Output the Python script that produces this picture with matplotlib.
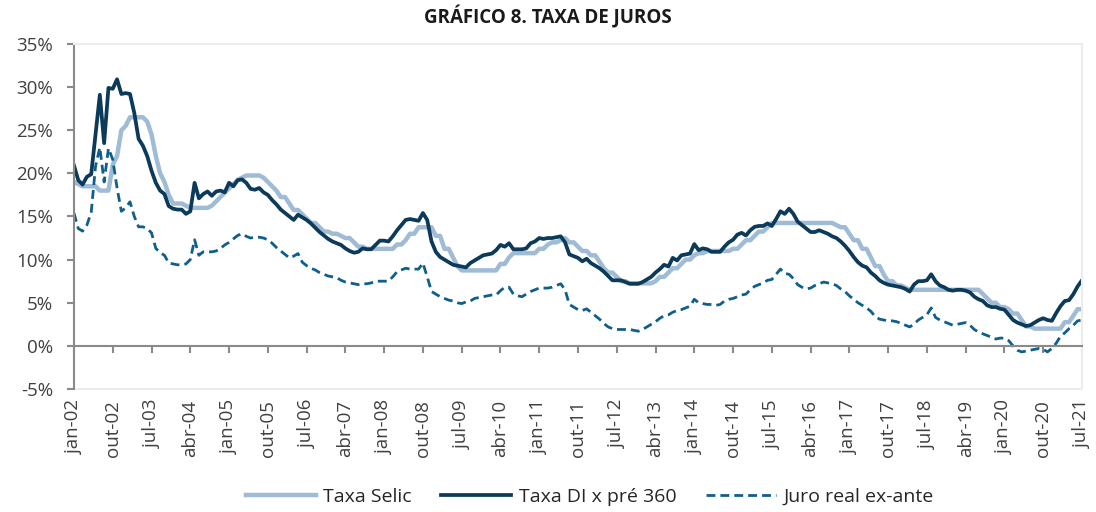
import numpy as np
import matplotlib
matplotlib.use("Agg")
import matplotlib.pyplot as plt

# monthly values, jan-02 .. jul-21 (% a.a.)
selic = [
    19.0, 18.75, 18.5, 18.5, 18.5, 18.5, 18.0, 18.0, 18.0, 21.0, 22.0, 25.0,
    25.5, 26.5, 26.5, 26.5, 26.5, 26.0, 24.5, 22.0, 20.0, 19.0, 17.5, 16.5,
    16.5, 16.5, 16.25, 16.0, 16.0, 16.0, 16.0, 16.0, 16.25, 16.75, 17.25, 17.75,
    18.25, 18.75, 19.25, 19.5, 19.75, 19.75, 19.75, 19.75, 19.5, 19.0, 18.5, 18.0,
    17.25, 17.25, 16.5, 15.75, 15.75, 15.25, 14.75, 14.25, 14.25, 13.75, 13.25, 13.25,
    13.0, 13.0, 12.75, 12.5, 12.5, 12.0, 11.5, 11.5, 11.25, 11.25, 11.25, 11.25,
    11.25, 11.25, 11.25, 11.75, 11.75, 12.25, 13.0, 13.0, 13.75, 13.75, 13.75, 13.75,
    12.75, 12.75, 11.25, 11.25, 10.25, 9.25, 8.75, 8.75, 8.75, 8.75, 8.75, 8.75,
    8.75, 8.75, 8.75, 9.5, 9.5, 10.25, 10.75, 10.75, 10.75, 10.75, 10.75, 10.75,
    11.25, 11.25, 11.75, 12.0, 12.0, 12.25, 12.5, 12.0, 12.0, 11.5, 11.0, 11.0,
    10.5, 10.5, 9.75, 9.0, 8.5, 8.5, 8.0, 7.5, 7.5, 7.25, 7.25, 7.25,
    7.25, 7.25, 7.25, 7.5, 8.0, 8.0, 8.5, 9.0, 9.0, 9.5, 10.0, 10.0,
    10.5, 10.75, 10.75, 11.0, 11.0, 11.0, 11.0, 11.0, 11.0, 11.25, 11.25, 11.75,
    12.25, 12.25, 12.75, 13.25, 13.25, 13.75, 14.25, 14.25, 14.25, 14.25, 14.25, 14.25,
    14.25, 14.25, 14.25, 14.25, 14.25, 14.25, 14.25, 14.25, 14.25, 14.0, 13.75, 13.75,
    13.0, 12.25, 12.25, 11.25, 11.25, 10.25, 9.25, 9.25, 8.25, 7.5, 7.5, 7.0,
    7.0, 6.75, 6.5, 6.5, 6.5, 6.5, 6.5, 6.5, 6.5, 6.5, 6.5, 6.5,
    6.5, 6.5, 6.5, 6.5, 6.5, 6.5, 6.5, 6.0, 5.5, 5.0, 5.0, 4.5,
    4.5, 4.25, 3.75, 3.75, 3.0, 2.25, 2.25, 2.0, 2.0, 2.0, 2.0, 2.0,
    2.0, 2.0, 2.75, 2.75, 3.5, 4.25, 4.25,
]

di_pre360 = [
    20.9, 19.2, 18.7, 19.6, 19.9, 24.5, 29.1, 23.5, 29.9, 29.8, 30.9, 29.2,
    29.3, 29.2, 27.0, 24.0, 23.2, 22.0, 20.3, 18.9, 18.0, 17.6, 16.2, 15.9,
    15.8, 15.8, 15.3, 15.6, 18.9, 17.1, 17.6, 17.9, 17.4, 17.9, 18.0, 17.8,
    18.9, 18.5, 19.2, 19.3, 18.9, 18.2, 18.1, 18.3, 17.8, 17.5, 16.9, 16.4,
    15.8, 15.4, 15.0, 14.6, 15.2, 14.9, 14.6, 14.2, 13.7, 13.2, 12.8, 12.4,
    12.1, 11.9, 11.7, 11.3, 11.0, 10.8, 10.9, 11.3, 11.2, 11.2, 11.7, 12.2,
    12.2, 12.1, 12.7, 13.4, 14.0, 14.6, 14.7, 14.6, 14.5, 15.4, 14.6, 12.1,
    10.9, 10.3, 10.0, 9.7, 9.4, 9.3, 9.2, 9.1, 9.6, 9.9, 10.2, 10.5,
    10.6, 10.7, 11.1, 11.7, 11.5, 11.9, 11.2, 11.2, 11.2, 11.3, 11.9, 12.1,
    12.5, 12.4, 12.5, 12.5, 12.6, 12.7, 12.0, 10.6, 10.4, 10.2, 9.8, 10.1,
    9.6, 9.3, 9.0, 8.6, 8.1, 7.6, 7.6, 7.6, 7.4, 7.2, 7.2, 7.2,
    7.4, 7.7, 8.0, 8.5, 8.9, 9.4, 9.2, 10.2, 9.9, 10.5, 10.6, 10.7,
    11.8, 11.1, 11.3, 11.2, 10.9, 10.9, 10.9, 11.5, 12.0, 12.3, 12.9, 13.1,
    12.8, 13.4, 13.8, 13.9, 13.9, 14.2, 13.9, 14.7, 15.6, 15.3, 15.9, 15.3,
    14.4, 14.0, 13.6, 13.2, 13.2, 13.4, 13.2, 13.0, 12.7, 12.5, 12.1, 11.6,
    11.0, 10.3, 9.7, 9.3, 9.1, 8.5, 8.1, 7.6, 7.3, 7.1, 7.0, 6.9,
    6.8, 6.6, 6.3, 7.1, 7.5, 7.5, 7.6, 8.3, 7.5, 7.0, 6.8, 6.5,
    6.4, 6.5, 6.5, 6.4, 6.2, 5.7, 5.4, 5.2, 4.7, 4.5, 4.5, 4.3,
    4.2, 3.6, 3.0, 2.7, 2.5, 2.3, 2.4, 2.7, 3.0, 3.2, 3.0, 2.9,
    3.8, 4.6, 5.2, 5.3, 6.0, 6.9, 7.6,
]

juro_real = [
    15.4, 13.6, 13.3, 14.0, 15.5, 20.8, 23.0, 19.0, 22.9, 21.6, 18.3, 15.6,
    16.0, 16.7, 15.0, 13.8, 13.8, 13.6, 13.1, 11.3, 10.8, 10.5, 9.6, 9.5,
    9.4, 9.4, 9.5, 10.0, 12.3, 10.5, 10.9, 10.9, 10.9, 11.0, 11.3, 11.7,
    12.0, 12.4, 12.8, 13.0, 12.7, 12.5, 12.6, 12.6, 12.5, 12.3, 11.9, 11.4,
    11.0, 10.6, 10.2, 10.4, 10.7, 9.7, 9.3, 9.0, 8.8, 8.5, 8.3, 8.1,
    8.0, 7.9, 7.6, 7.4, 7.3, 7.2, 7.1, 7.2, 7.2, 7.3, 7.5, 7.5,
    7.5, 7.5, 8.0, 8.6, 8.8, 9.0, 8.9, 8.9, 8.9, 9.6, 8.0, 6.3,
    6.0, 5.7, 5.5, 5.3, 5.2, 5.0, 4.9, 5.1, 5.2, 5.5, 5.6, 5.7,
    5.8, 5.9, 5.9, 6.4, 6.8, 6.8, 6.0, 5.8, 5.7, 6.0, 6.3, 6.5,
    6.7, 6.7, 6.7, 6.8, 7.0, 7.2, 6.5, 4.8, 4.5, 4.2, 4.1, 4.3,
    3.9, 3.5, 3.1, 2.6, 2.2, 2.0, 1.9, 1.9, 1.9, 1.9, 1.8, 1.7,
    1.9, 2.2, 2.5, 2.8, 3.2, 3.5, 3.6, 3.9, 4.1, 4.2, 4.4, 4.6,
    5.4, 5.0, 4.9, 4.8, 4.8, 4.7, 4.8, 5.2, 5.4, 5.5, 5.7, 5.9,
    6.0, 6.5, 6.9, 7.1, 7.3, 7.6, 7.7, 8.3, 8.9, 8.4, 8.3, 7.8,
    7.1, 6.8, 6.6, 6.7, 7.0, 7.2, 7.4, 7.3, 7.2, 7.0, 6.6, 6.3,
    5.8, 5.4, 5.0, 4.7, 4.4, 4.0, 3.4, 3.1, 3.0, 2.9, 2.9, 2.8,
    2.6, 2.4, 2.2, 2.5, 3.0, 3.3, 3.6, 4.4, 3.3, 3.0, 2.8, 2.6,
    2.4, 2.5, 2.6, 2.7, 2.4, 1.9, 1.6, 1.4, 1.2, 1.0, 0.8, 0.9,
    0.9, 0.6, 0.0, -0.5, -0.7, -0.6, -0.5, -0.4, -0.3, -0.4, -0.7, -0.3,
    0.3, 1.1, 1.5, 2.0, 2.4, 2.9, 3.0,
]

tick_labels = ["jan-02", "out-02", "jul-03", "abr-04", "jan-05", "out-05", "jul-06",
               "abr-07", "jan-08", "out-08", "jul-09", "abr-10", "jan-11", "out-11",
               "jul-12", "abr-13", "jan-14", "out-14", "jul-15", "abr-16", "jan-17",
               "out-17", "jul-18", "abr-19", "jan-20", "out-20", "jul-21"]
y_ticks = [-5, 0, 5, 10, 15, 20, 25, 30, 35]

plt.rcParams['font.family'] = ['Open Sans', 'DejaVu Sans']

x = np.arange(len(selic))
fig = plt.figure(figsize=(10.96, 5.12), dpi=100)
ax = fig.add_axes([0.0675, 0.2402, 0.9197, 0.674])

# move the x axis to 0% first (this resets the ticks)
ax.spines['bottom'].set_position(('data', 0))

ax.plot(x, selic, color='#9fbbd6', lw=3.2, label='Taxa Selic', solid_joinstyle='round')
ax.plot(x, di_pre360, color='#0b3a5a', lw=2.7, label='Taxa DI x pré 360', solid_joinstyle='round')
ax.plot(x, juro_real, color='#0f5f8c', lw=2.0, ls=(0, (3.2, 1.8)), label='Juro real ex-ante')

ax.set_xlim(0, len(selic) - 1)
ax.set_ylim(-5, 35)

ax.set_yticks(y_ticks)
ax.set_yticklabels([f"{v}%" for v in y_ticks])
ax.set_xticks(np.arange(0, len(selic), 9))
ax.set_xticklabels(tick_labels)

for s in ['bottom', 'left']:
    ax.spines[s].set_color('#8a8a8a')
    ax.spines[s].set_linewidth(1.5)
for s in ['top', 'right']:
    ax.spines[s].set_color('#ececec')
    ax.spines[s].set_linewidth(1.5)
ax.axhline(-5, color='#ececec', lw=1.5, clip_on=False, zorder=0)

ax.tick_params(axis='y', direction='out', length=5, width=1.5, color='#8a8a8a',
               labelsize=13.5, labelcolor='#404040', pad=10)
ax.tick_params(axis='x', direction='out', length=5, width=1.5, color='#8a8a8a',
               labelsize=13.5, labelcolor='#404040', pad=34, labelrotation=90)

fig.suptitle('GRÁFICO 8. TAXA DE JUROS', x=0.5, y=0.99, fontsize=13.5,
             fontweight='bold', color='#1a1a1a')

fig.legend(loc='center', bbox_to_anchor=(0.538, 0.03), ncol=3, frameon=False,
           fontsize=14, handlelength=3.6, columnspacing=1.5, handletextpad=0.4,
           labelcolor='#262626')

fig.savefig('out.png', dpi=100, facecolor='white')
